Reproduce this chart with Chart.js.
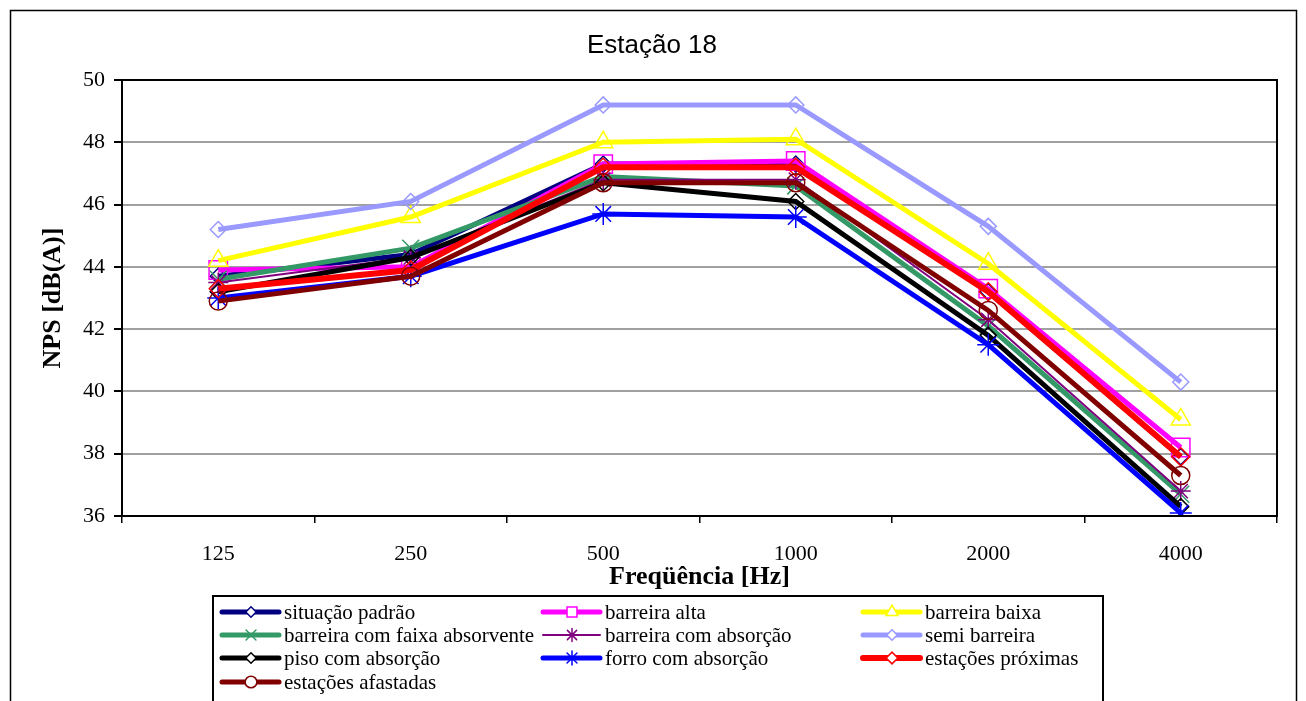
<!DOCTYPE html>
<html>
<head>
<meta charset="utf-8">
<script src="https://cdn.jsdelivr.net/npm/chart.js@4/dist/chart.umd.min.js"></script>
<style>
  html, body { margin: 0; padding: 0; background: #fff; }
  #wrap { width: 1306px; height: 701px; position: relative; }
</style>
</head>
<body>
<div id="wrap"><canvas id="grafico"></canvas></div>
<script>
// dados (NPS em dB(A) por banda de frequência)
const frequencias = ['125', '250', '500', '1000', '2000', '4000'];
const situacaoPadrao    = [43.7, 44.4, 47.3, 47.3, 43.2, 37.9];
const barreiraAlta      = [43.9, 44.0, 47.3, 47.4, 43.3, 38.2];
const barreiraBaixa     = [44.2, 45.6, 48.0, 48.1, 44.1, 39.1];
const barreiraFaixa     = [43.6, 44.6, 46.9, 46.6, 42.1, 36.7];
const barreiraAbsorcao  = [43.5, 44.3, 46.8, 46.8, 42.3, 36.8];
const semiBarreira      = [45.2, 46.1, 49.2, 49.2, 45.3, 40.3];
const pisoAbsorcao      = [43.2, 44.3, 46.7, 46.1, 41.8, 36.3];
const forroAbsorcao     = [43.0, 43.7, 45.7, 45.6, 41.5, 36.1];
const estacoesProximas  = [43.3, 43.9, 47.2, 47.2, 43.2, 37.9];
const estacoesAfastadas = [42.9, 43.7, 46.7, 46.7, 42.6, 37.3];

const titulo = 'Estação 18';
const tituloY = 'NPS [dB(A)]';
const tituloX = 'Freqüência [Hz]';

const series = [
  { label: 'situação padrão', data: situacaoPadrao, cor: '#000080', estilo: 'rectRot', r: 8, lw: 5 },
  { label: 'barreira alta', data: barreiraAlta, cor: '#FF00FF', estilo: 'rect', r: 13, lw: 5 },
  { label: 'barreira baixa', data: barreiraBaixa, cor: '#FFFF00', estilo: 'triangle', r: 11, lw: 5 },
  { label: 'barreira com faixa absorvente', data: barreiraFaixa, cor: '#339966', estilo: 'crossRot', r: 12, lw: 5 },
  { label: 'barreira com absorção', data: barreiraAbsorcao, cor: '#800080', estilo: 'star', r: 10, lw: 2 },
  { label: 'semi barreira', data: semiBarreira, cor: '#9999FF', estilo: 'rectRot', r: 8, lw: 5 },
  { label: 'piso com absorção', data: pisoAbsorcao, cor: '#000000', estilo: 'rectRot', r: 8, lw: 5 },
  { label: 'forro com absorção', data: forroAbsorcao, cor: '#0000FF', estilo: 'star', r: 11, lw: 5 },
  { label: 'estações próximas', data: estacoesProximas, cor: '#FF0000', estilo: 'rectRot', r: 9, lw: 6 },
  { label: 'estações afastadas', data: estacoesAfastadas, cor: '#800000', estilo: 'circle', r: 9, lw: 5 }
];

const SERIF = "'Liberation Serif', 'Times New Roman', serif";
const SANS = "'Liberation Sans', Arial, sans-serif";

function marcador(ctx, estilo, r, x, y, cor, fundo) {
  if (Chart.helpers && Chart.helpers.drawPoint) {
    ctx.save();
    ctx.strokeStyle = cor; ctx.fillStyle = fundo; ctx.lineWidth = 1.5;
    Chart.helpers.drawPoint(ctx, { pointStyle: estilo, radius: r, rotation: 0, borderWidth: 1.5 }, x, y);
    ctx.restore();
  }
}

// título, moldura externa, borda da área e legenda
const extras = {
  id: 'extras',
  afterDraw(chart) {
    const ctx = chart.ctx, a = chart.chartArea;
    ctx.save();
    ctx.strokeStyle = '#000'; ctx.lineWidth = 1.5;
    ctx.strokeRect(10.5, 10.5, 1286, 720);
    // borda da área de plotagem
    ctx.lineWidth = 2;
    ctx.strokeRect(a.left, a.top, a.right - a.left, a.bottom - a.top);

    ctx.fillStyle = '#000';
    ctx.font = '26px ' + SANS;
    ctx.textAlign = 'center'; ctx.textBaseline = 'middle';
    ctx.fillText(titulo, 652, 46);

    // legenda
    ctx.lineWidth = 2;
    ctx.strokeRect(213, 596, 890, 130);
    const colX = [222, 543, 863], linY = [612, 635, 658, 682];
    ctx.font = '21px ' + SERIF;
    ctx.textAlign = 'left';
    series.forEach((s, i) => {
      const x = colX[i % 3], y = linY[Math.floor(i / 3)];
      ctx.strokeStyle = s.cor; ctx.lineWidth = s.lw; ctx.lineCap = 'round';
      ctx.beginPath(); ctx.moveTo(x, y); ctx.lineTo(x + 57, y); ctx.stroke();
      marcador(ctx, s.estilo, Math.min(s.r * 0.65, 7), x + 29, y, s.cor, '#fff');
      ctx.fillStyle = '#000';
      ctx.fillText(s.label, x + 62, y + 1);
    });
    ctx.restore();
  }
};

const ctx = document.getElementById('grafico').getContext('2d');
new Chart(ctx, {
  type: 'line',
  data: {
    labels: frequencias,
    datasets: series.map((s, i) => ({
      label: s.label,
      data: s.data,
      borderColor: s.cor,
      backgroundColor: 'rgba(0,0,0,0)',
      borderWidth: s.lw,
      pointStyle: s.estilo,
      pointRadius: s.r,
      pointBorderWidth: 1.5,
      pointBorderColor: s.cor,
      pointBackgroundColor: 'rgba(0,0,0,0)',
      tension: 0,
      fill: false,
      order: series.length - i
    }))
  },
  options: {
    responsive: true,
    maintainAspectRatio: false,
    animation: false,
    layout: { padding: { left: 0, right: 29, top: 80, bottom: 105 } },
    plugins: { legend: { display: false }, title: { display: false }, tooltip: { enabled: false } },
    scales: {
      x: {
        offset: true,
        afterFit: sc => { sc.height = 80; },
        grid: { display: true, drawOnChartArea: false, drawTicks: true, tickLength: 7, offset: true, tickColor: '#000', lineWidth: 1.5 },
        border: { display: true, color: '#000', width: 2 },
        ticks: { color: '#000', font: { family: SERIF, size: 22 }, padding: 18, maxRotation: 0 },
        title: { display: true, text: tituloX, color: '#000', font: { family: SERIF, size: 26, weight: 'bold' }, padding: { top: 0, bottom: 3 } }
      },
      y: {
        min: 36, max: 50,
        afterFit: sc => { sc.width = 122; },
        grid: { color: '#A0A0A0', lineWidth: 2, tickLength: 8, tickColor: '#000' },
        border: { display: true, color: '#000', width: 2 },
        ticks: { stepSize: 2, color: '#000', font: { family: SERIF, size: 22 }, padding: 9 },
        title: { display: true, text: tituloY, color: '#000', font: { family: SERIF, size: 26, weight: 'bold' }, padding: { top: 38, bottom: 0 } }
      }
    }
  },
  plugins: [extras]
});
</script>
</body>
</html>
